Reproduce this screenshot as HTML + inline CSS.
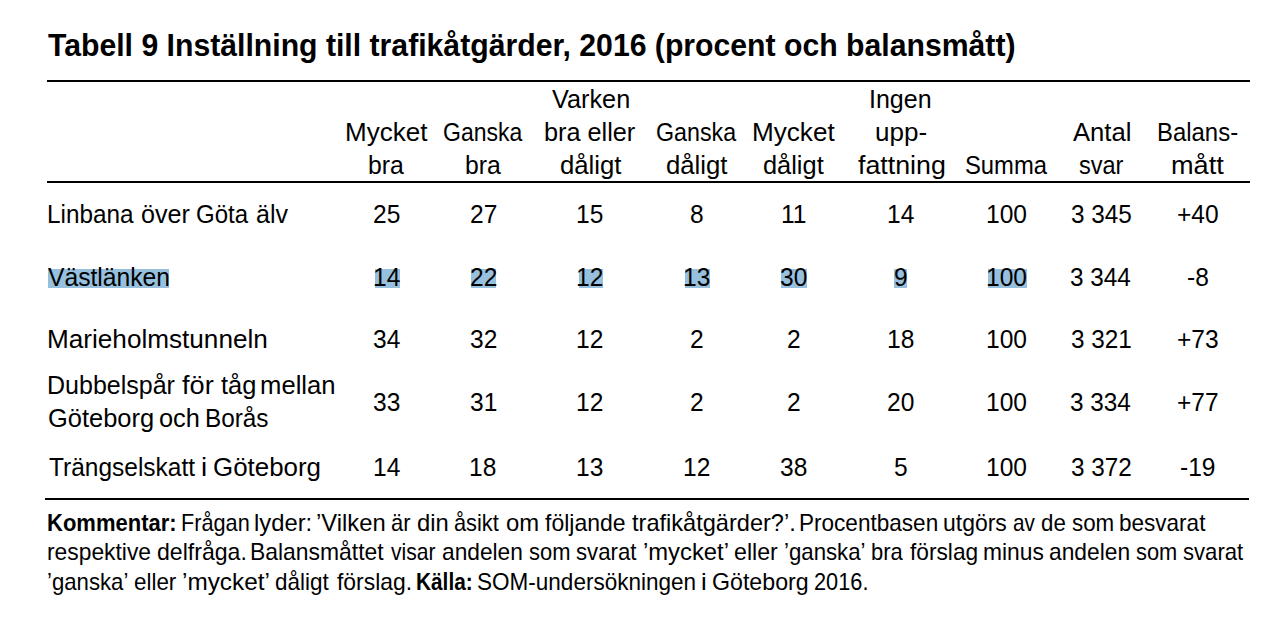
<!DOCTYPE html>
<html><head><meta charset="utf-8"><style>
html,body{margin:0;padding:0;background:#fff;width:1280px;height:625px;overflow:hidden}
body{position:relative;font-family:"Liberation Sans",sans-serif;color:#000}
div{position:absolute;white-space:nowrap;line-height:1;transform-origin:0 0}
div.b,b{font-weight:bold}
i{position:absolute;top:269px;height:18.6px;background:#97c0de}
.r{position:absolute;background:#000;height:2px}
</style></head><body>
<span class="r" style="left:47px;top:80px;width:1203px"></span>
<span class="r" style="left:47px;top:181px;width:1203px"></span>
<span class="r" style="left:45px;top:498px;width:1204px"></span>
<i style="left:48.0px;width:121.0px"></i><i style="left:374.8px;width:25.6px"></i><i style="left:470.7px;width:25.8px"></i><i style="left:578.5px;width:24.6px"></i><i style="left:684.6px;width:25.3px"></i><i style="left:780.7px;width:26.3px"></i><i style="left:894.4px;width:12.8px"></i><i style="left:988.0px;width:39.3px"></i>
<div class="b" style="left:48.00px;top:30.00px;font-size:31.50px;transform:scaleX(0.9585)">Tabell 9 Inställning till trafikåtgärder, 2016 (procent och balansmått)</div>
<div style="left:345.17px;top:120.00px;font-size:25.20px;transform:scaleX(1.0330)">Mycket</div>
<div style="left:368.05px;top:153.00px;font-size:25.20px;transform:scaleX(0.9827)">bra</div>
<div style="left:442.92px;top:120.00px;font-size:25.20px;transform:scaleX(0.9135)">Ganska</div>
<div style="left:464.85px;top:153.00px;font-size:25.20px;transform:scaleX(0.9827)">bra</div>
<div style="left:552.40px;top:87.00px;font-size:25.20px;transform:scaleX(1.0031)">Varken</div>
<div style="left:544.42px;top:120.00px;font-size:25.20px;transform:scaleX(1.0029)">bra eller</div>
<div style="left:559.60px;top:153.00px;font-size:25.20px;transform:scaleX(1.0211)">dåligt</div>
<div style="left:655.71px;top:120.00px;font-size:25.20px;transform:scaleX(0.9228)">Ganska</div>
<div style="left:665.60px;top:153.00px;font-size:25.20px;transform:scaleX(1.0211)">dåligt</div>
<div style="left:751.56px;top:120.00px;font-size:25.20px;transform:scaleX(1.0369)">Mycket</div>
<div style="left:763.21px;top:153.00px;font-size:25.20px;transform:scaleX(1.0077)">dåligt</div>
<div style="left:869.25px;top:87.00px;font-size:25.20px;transform:scaleX(0.9920)">Ingen</div>
<div style="left:875.17px;top:120.00px;font-size:25.20px;transform:scaleX(1.0344)">upp-</div>
<div style="left:857.60px;top:153.00px;font-size:25.20px;transform:scaleX(1.0634)">fattning</div>
<div style="left:965.06px;top:153.00px;font-size:25.20px;transform:scaleX(0.9444)">Summa</div>
<div style="left:1072.80px;top:120.00px;font-size:25.20px;transform:scaleX(1.0183)">Antal</div>
<div style="left:1078.83px;top:153.00px;font-size:25.20px;transform:scaleX(0.9344)">svar</div>
<div style="left:1157.33px;top:120.00px;font-size:25.20px;transform:scaleX(0.9496)">Balans-</div>
<div style="left:1171.10px;top:153.00px;font-size:25.20px;transform:scaleX(1.0774)">mått</div>
<div style="left:47.00px;top:202.00px;font-size:25.20px;transform:scaleX(0.9650)">Linbana</div>
<div style="left:141.21px;top:202.00px;font-size:25.20px;transform:scaleX(0.9977)">över</div>
<div style="left:196.37px;top:202.00px;font-size:25.20px;transform:scaleX(0.9532)">Göta</div>
<div style="left:256.02px;top:202.00px;font-size:25.20px;transform:scaleX(0.9928)">älv</div>
<div style="left:373.06px;top:202.00px;font-size:25.20px;transform:scaleX(0.9750)">25</div>
<div style="left:469.56px;top:202.00px;font-size:25.20px;transform:scaleX(0.9750)">27</div>
<div style="left:576.37px;top:202.00px;font-size:25.20px;transform:scaleX(0.9750)">15</div>
<div style="left:690.28px;top:202.00px;font-size:25.20px;transform:scaleX(0.9750)">8</div>
<div style="left:780.78px;top:202.00px;font-size:25.20px;transform:scaleX(0.9750)">11</div>
<div style="left:886.77px;top:202.00px;font-size:25.20px;transform:scaleX(0.9750)">14</div>
<div style="left:986.24px;top:202.00px;font-size:25.20px;transform:scaleX(0.9750)">100</div>
<div style="left:1070.65px;top:202.00px;font-size:25.20px;transform:scaleX(0.9660)">3 345</div>
<div style="left:1176.69px;top:202.00px;font-size:25.20px;transform:scaleX(0.9750)">+40</div>
<div style="left:48.20px;top:265.00px;font-size:25.20px;transform:scaleX(0.9792)">Västlänken</div>
<div style="left:372.67px;top:265.00px;font-size:25.20px;transform:scaleX(0.9750)">14</div>
<div style="left:469.56px;top:265.00px;font-size:25.20px;transform:scaleX(0.9750)">22</div>
<div style="left:576.37px;top:265.00px;font-size:25.20px;transform:scaleX(0.9750)">12</div>
<div style="left:683.07px;top:265.00px;font-size:25.20px;transform:scaleX(0.9750)">13</div>
<div style="left:780.06px;top:265.00px;font-size:25.20px;transform:scaleX(0.9750)">30</div>
<div style="left:893.99px;top:265.00px;font-size:25.20px;transform:scaleX(0.9750)">9</div>
<div style="left:986.24px;top:265.00px;font-size:25.20px;transform:scaleX(0.9750)">100</div>
<div style="left:1070.46px;top:265.00px;font-size:25.20px;transform:scaleX(0.9660)">3 344</div>
<div style="left:1186.99px;top:265.00px;font-size:25.20px;transform:scaleX(0.9750)">-8</div>
<div style="left:46.56px;top:327.00px;font-size:25.20px;transform:scaleX(1.0376)">Marieholmstunneln</div>
<div style="left:373.06px;top:327.00px;font-size:25.20px;transform:scaleX(0.9750)">34</div>
<div style="left:469.75px;top:327.00px;font-size:25.20px;transform:scaleX(0.9750)">32</div>
<div style="left:576.37px;top:327.00px;font-size:25.20px;transform:scaleX(0.9750)">12</div>
<div style="left:690.09px;top:327.00px;font-size:25.20px;transform:scaleX(0.9750)">2</div>
<div style="left:786.89px;top:327.00px;font-size:25.20px;transform:scaleX(0.9750)">2</div>
<div style="left:886.97px;top:327.00px;font-size:25.20px;transform:scaleX(0.9750)">18</div>
<div style="left:986.24px;top:327.00px;font-size:25.20px;transform:scaleX(0.9750)">100</div>
<div style="left:1070.65px;top:327.00px;font-size:25.20px;transform:scaleX(0.9660)">3 321</div>
<div style="left:1176.88px;top:327.00px;font-size:25.20px;transform:scaleX(0.9750)">+73</div>
<div style="left:46.95px;top:373.00px;font-size:25.20px;transform:scaleX(0.9930)">Dubbelspår</div>
<div style="left:181.80px;top:373.00px;font-size:25.20px;transform:scaleX(1.0790)">för</div>
<div style="left:220.50px;top:373.00px;font-size:25.20px;transform:scaleX(1.0084)">tåg</div>
<div style="left:259.90px;top:373.00px;font-size:25.20px;transform:scaleX(1.0190)">mellan</div>
<div style="left:47.71px;top:406.00px;font-size:25.20px;transform:scaleX(1.0110)">Göteborg</div>
<div style="left:158.71px;top:406.00px;font-size:25.20px;transform:scaleX(1.0071)">och</div>
<div style="left:204.50px;top:406.00px;font-size:25.20px;transform:scaleX(0.9655)">Borås</div>
<div style="left:373.25px;top:390.00px;font-size:25.20px;transform:scaleX(0.9750)">33</div>
<div style="left:469.75px;top:390.00px;font-size:25.20px;transform:scaleX(0.9750)">31</div>
<div style="left:576.37px;top:390.00px;font-size:25.20px;transform:scaleX(0.9750)">12</div>
<div style="left:690.09px;top:390.00px;font-size:25.20px;transform:scaleX(0.9750)">2</div>
<div style="left:786.89px;top:390.00px;font-size:25.20px;transform:scaleX(0.9750)">2</div>
<div style="left:886.97px;top:390.00px;font-size:25.20px;transform:scaleX(0.9750)">20</div>
<div style="left:986.24px;top:390.00px;font-size:25.20px;transform:scaleX(0.9750)">100</div>
<div style="left:1070.46px;top:390.00px;font-size:25.20px;transform:scaleX(0.9660)">3 334</div>
<div style="left:1176.88px;top:390.00px;font-size:25.20px;transform:scaleX(0.9750)">+77</div>
<div style="left:48.52px;top:455.00px;font-size:25.20px;transform:scaleX(0.9719)">Trängselskatt</div>
<div style="left:201.17px;top:455.00px;font-size:25.20px;transform:scaleX(1.1000)">i</div>
<div style="left:213.39px;top:455.00px;font-size:25.20px;transform:scaleX(1.0286)">Göteborg</div>
<div style="left:372.67px;top:455.00px;font-size:25.20px;transform:scaleX(0.9750)">14</div>
<div style="left:469.37px;top:455.00px;font-size:25.20px;transform:scaleX(0.9750)">18</div>
<div style="left:576.37px;top:455.00px;font-size:25.20px;transform:scaleX(0.9750)">13</div>
<div style="left:683.07px;top:455.00px;font-size:25.20px;transform:scaleX(0.9750)">12</div>
<div style="left:780.25px;top:455.00px;font-size:25.20px;transform:scaleX(0.9750)">38</div>
<div style="left:894.18px;top:455.00px;font-size:25.20px;transform:scaleX(0.9750)">5</div>
<div style="left:986.24px;top:455.00px;font-size:25.20px;transform:scaleX(0.9750)">100</div>
<div style="left:1070.65px;top:455.00px;font-size:25.20px;transform:scaleX(0.9660)">3 372</div>
<div style="left:1180.16px;top:455.00px;font-size:25.20px;transform:scaleX(0.9750)">-19</div>
<div class="b" style="left:47.37px;top:512.00px;font-size:23.40px;transform:scaleX(0.9408)">Kommentar:</div>
<div style="left:180.81px;top:512.00px;font-size:23.40px;transform:scaleX(0.9268)">Frågan</div>
<div style="left:254.11px;top:512.00px;font-size:23.40px;transform:scaleX(1.0178)">lyder:</div>
<div style="left:316.38px;top:512.00px;font-size:23.40px;transform:scaleX(1.0167)">’Vilken</div>
<div style="left:391.31px;top:512.00px;font-size:23.40px;transform:scaleX(0.9368)">är</div>
<div style="left:417.26px;top:512.00px;font-size:23.40px;transform:scaleX(1.0178)">din</div>
<div style="left:454.32px;top:512.00px;font-size:23.40px;transform:scaleX(0.9313)">åsikt</div>
<div style="left:505.75px;top:512.00px;font-size:23.40px;transform:scaleX(1.0208)">om</div>
<div style="left:545.00px;top:512.00px;font-size:23.40px;transform:scaleX(0.9837)">följande</div>
<div style="left:632.00px;top:512.00px;font-size:23.40px;transform:scaleX(1.0077)">trafikåtgärder?’.</div>
<div style="left:799.24px;top:512.00px;font-size:23.40px;transform:scaleX(0.9642)">Procentbasen</div>
<div style="left:943.06px;top:512.00px;font-size:23.40px;transform:scaleX(0.9818)">utgörs</div>
<div style="left:1012.85px;top:512.00px;font-size:23.40px;transform:scaleX(0.8840)">av</div>
<div style="left:1041.30px;top:512.00px;font-size:23.40px;transform:scaleX(0.9528)">de</div>
<div style="left:1072.15px;top:512.00px;font-size:23.40px;transform:scaleX(0.9547)">som</div>
<div style="left:1119.09px;top:512.00px;font-size:23.40px;transform:scaleX(0.9630)">besvarat</div>
<div style="left:47.17px;top:541.00px;font-size:23.40px;transform:scaleX(0.9757)">respektive</div>
<div style="left:156.88px;top:541.00px;font-size:23.40px;transform:scaleX(0.9873)">delfråga.</div>
<div style="left:250.21px;top:541.00px;font-size:23.40px;transform:scaleX(0.9787)">Balansmåttet</div>
<div style="left:391.25px;top:541.00px;font-size:23.40px;transform:scaleX(0.9018)">visar</div>
<div style="left:442.29px;top:541.00px;font-size:23.40px;transform:scaleX(0.9712)">andelen</div>
<div style="left:528.86px;top:541.00px;font-size:23.40px;transform:scaleX(0.9383)">som</div>
<div style="left:576.15px;top:541.00px;font-size:23.40px;transform:scaleX(0.9490)">svarat</div>
<div style="left:642.88px;top:541.00px;font-size:23.40px;transform:scaleX(1.0179)">’mycket’</div>
<div style="left:734.28px;top:541.00px;font-size:23.40px;transform:scaleX(0.9914)">eller</div>
<div style="left:784.26px;top:541.00px;font-size:23.40px;transform:scaleX(0.9500)">’ganska’</div>
<div style="left:870.63px;top:541.00px;font-size:23.40px;transform:scaleX(0.9383)">bra</div>
<div style="left:909.80px;top:541.00px;font-size:23.40px;transform:scaleX(0.9707)">förslag</div>
<div style="left:982.57px;top:541.00px;font-size:23.40px;transform:scaleX(0.9747)">minus</div>
<div style="left:1049.29px;top:541.00px;font-size:23.40px;transform:scaleX(0.9737)">andelen</div>
<div style="left:1136.06px;top:541.00px;font-size:23.40px;transform:scaleX(0.9336)">som</div>
<div style="left:1183.15px;top:541.00px;font-size:23.40px;transform:scaleX(0.9458)">svarat</div>
<div style="left:46.96px;top:571.00px;font-size:23.40px;transform:scaleX(0.9476)">’ganska’</div>
<div style="left:133.80px;top:571.00px;font-size:23.40px;transform:scaleX(0.9568)">eller</div>
<div style="left:182.16px;top:571.00px;font-size:23.40px;transform:scaleX(1.0397)">’mycket’</div>
<div style="left:275.40px;top:571.00px;font-size:23.40px;transform:scaleX(0.9604)">dåligt</div>
<div style="left:336.50px;top:571.00px;font-size:23.40px;transform:scaleX(0.9783)">förslag.</div>
<div class="b" style="left:415.50px;top:571.00px;font-size:23.40px;transform:scaleX(0.8903)">Källa:</div>
<div style="left:477.10px;top:571.00px;font-size:23.40px;transform:scaleX(0.9629)">SOM-undersökningen</div>
<div style="left:700.69px;top:571.00px;font-size:23.40px;transform:scaleX(1.1000)">i</div>
<div style="left:712.31px;top:571.00px;font-size:23.40px;transform:scaleX(0.9910)">Göteborg</div>
<div style="left:813.98px;top:571.00px;font-size:23.40px;transform:scaleX(0.9305)">2016.</div>
</body></html>
